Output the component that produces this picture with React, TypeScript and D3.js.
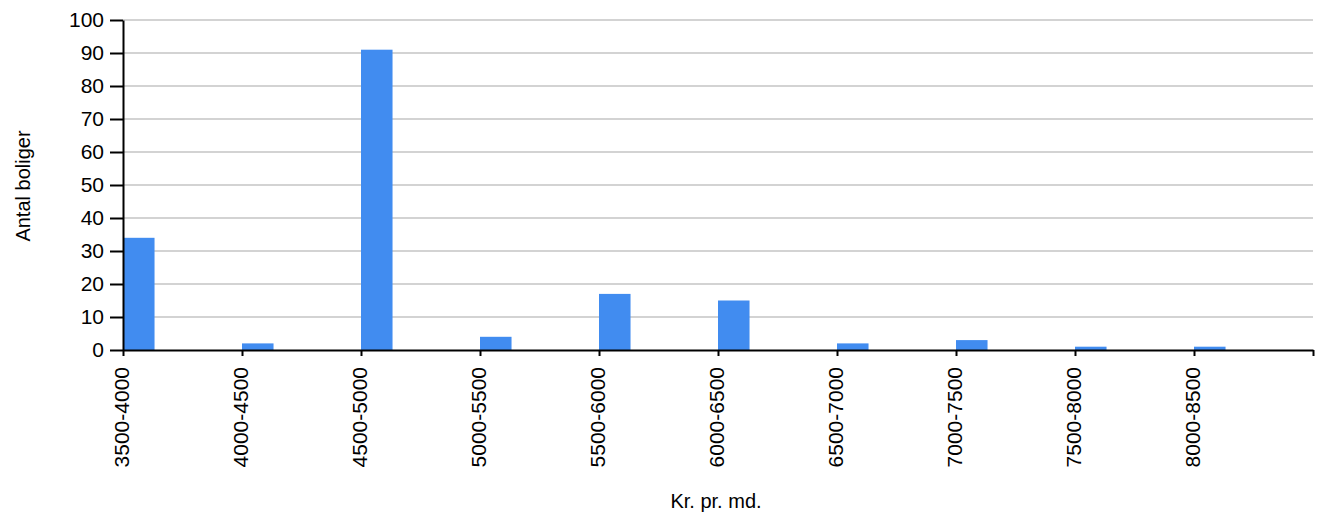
import { useEffect, useRef } from 'react'
import * as d3 from 'd3'

const categories = ['3500-4000', '4000-4500', '4500-5000', '5000-5500', '5500-6000', '6000-6500', '6500-7000', '7000-7500', '7500-8000', '8000-8500']
const counts = [34, 2, 91, 4, 17, 15, 2, 3, 1, 1]
const yTicks = [0, 10, 20, 30, 40, 50, 60, 70, 80, 90, 100]

export default function App() {
  const svgRef = useRef<SVGSVGElement>(null)

  useEffect(() => {
    if (!svgRef.current) return
    const width = 1319
    const height = 515
    const m = { top: 20, right: 6, bottom: 165, left: 123 }
    const iW = width - m.left - m.right
    const iH = height - m.top - m.bottom
    const font = '"Liberation Sans", Arial, sans-serif'

    const svg = d3.select(svgRef.current)
    svg.selectAll('*').remove()
    svg.attr('width', width).attr('height', height)

    const g = svg.append('g').attr('transform', `translate(${m.left},${m.top})`)

    // slot index scale: one slot per category plus the trailing edge
    const xScale = d3.scaleLinear().domain([0, categories.length]).range([0, iW])
    const yScale = d3.scaleLinear().domain([0, 100]).range([iH, 0])
    const barW = (xScale(1) - xScale(0)) * 0.265

    // grid
    g.append('g').selectAll('line').data(yTicks.slice(1)).enter().append('line')
      .attr('x1', 0).attr('x2', iW).attr('y1', d => yScale(d)).attr('y2', d => yScale(d))
      .attr('stroke', '#d3d3d3').attr('stroke-width', 2)

    // bars
    g.append('g').selectAll('rect').data(counts).enter().append('rect')
      .attr('x', (_, i) => xScale(i))
      .attr('y', d => yScale(d))
      .attr('width', barW)
      .attr('height', d => iH - yScale(d))
      .attr('fill', '#418CF0')

    // axes
    g.append('g').attr('transform', `translate(0,${iH})`)
      .call(d3.axisBottom(xScale).tickValues(d3.range(categories.length + 1)).tickSize(6).tickSizeOuter(0)
        .tickFormat(d => categories[d as number] ?? ''))
      .call(ax => {
        ax.select('.domain').attr('stroke', '#000').attr('stroke-width', 2)
        ax.selectAll('.tick line').attr('stroke', '#000').attr('stroke-width', 2)
        ax.selectAll('.tick text')
          .attr('fill', '#000').attr('font-size', '21px').attr('font-family', font)
          .attr('text-anchor', 'end').attr('dy', '0.35em')
          .attr('transform', 'rotate(-90)').attr('x', -17).attr('y', -2)
      })

    g.append('g')
      .call(d3.axisLeft(yScale).tickValues(yTicks).tickSize(13).tickSizeOuter(0).tickPadding(6))
      .call(ax => {
        ax.select('.domain').attr('stroke', '#000').attr('stroke-width', 2)
        ax.selectAll('.tick line').attr('stroke', '#000').attr('stroke-width', 2)
        ax.selectAll('.tick text').attr('fill', '#000').attr('font-size', '21px').attr('font-family', font)
      })

    // axis titles
    svg.append('text').attr('x', 716).attr('y', 508).attr('text-anchor', 'middle')
      .attr('fill', '#000').attr('font-size', '20px').attr('font-family', font).text('Kr. pr. md.')
    svg.append('text').attr('transform', 'rotate(-90)').attr('x', -186).attr('y', 30)
      .attr('text-anchor', 'middle').attr('fill', '#000').attr('font-size', '20px').attr('font-family', font)
      .text('Antal boliger')
  }, [])

  return <svg ref={svgRef} style={{ position: 'absolute', left: 0, top: 0, background: '#fff' }} />
}
